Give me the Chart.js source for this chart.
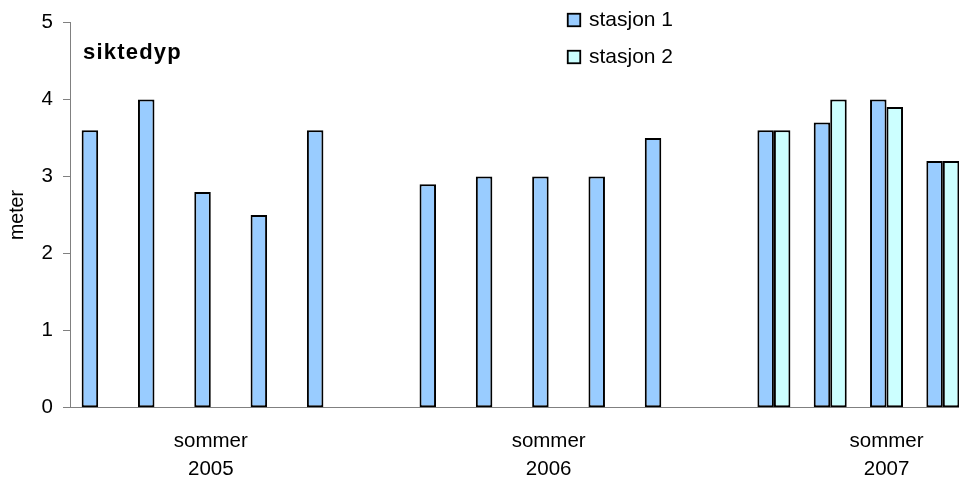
<!DOCTYPE html>
<html>
<head>
<meta charset="utf-8">
<script src="https://cdn.jsdelivr.net/npm/chart.js@4.4.1/dist/chart.umd.min.js"></script>
<style>
html, body { margin: 0; padding: 0; overflow: hidden; background: #fff; }
#wrap { width: 975px; height: 479px; }
</style>
</head>
<body>
<div id="wrap"><canvas id="chart"></canvas></div>
<script>
// 16 sampling slots, two of them empty between the summers
const categories = [
    '', '', ['sommer', '2005'], '', '',
    '',
    '', '', ['sommer', '2006'], '', '',
    '',
    '', '', ['sommer', '2007'], ''
];
const stasjon1 = [3.6, 4.0, 2.8, 2.5, 3.6, null, 2.9, 3.0, 3.0, 3.0, 3.5, null, 3.6, 3.7, 4.0, 3.2];
const stasjon2 = [null, null, null, null, null, null, null, null, null, null, null, null, 3.6, 4.0, 3.9, 3.2];
const seriesNames = ['stasjon 1', 'stasjon 2'];
const chartTitle = 'siktedyp';
const yTitle = 'meter';

const FONT = '"Liberation Sans", Arial, sans-serif';

// legend + title drawn inside the plot like the original
const extras = {
    id: 'extras',
    afterDraw(chart) {
        const ctx = chart.ctx;
        ctx.save();
        ctx.font = '21px ' + FONT;
        ctx.textBaseline = 'alphabetic';
        chart.data.datasets.forEach((ds, i) => {
            const y = 13.75 + i * 37;
            ctx.fillStyle = ds.backgroundColor;
            ctx.fillRect(567.75, y, 12.5, 12.5);
            ctx.lineWidth = 1.8;
            ctx.strokeStyle = '#000';
            ctx.strokeRect(567.75, y, 12.5, 12.5);
            ctx.fillStyle = '#000';
            ctx.fillText(ds.label, 589, y + 12);
        });
        ctx.font = 'bold 22px ' + FONT;
        ctx.letterSpacing = '1.2px';
        ctx.fillText(chartTitle, 83, 59);
        ctx.restore();
    }
};

const ctx = document.getElementById('chart').getContext('2d');
const chart = new Chart(ctx, {
    type: 'bar',
    data: {
        labels: categories,
        datasets: [{
            label: seriesNames[0],
            data: stasjon1,
            backgroundColor: '#99CCFF',
            borderColor: '#000000',
            borderWidth: 2,
            borderSkipped: false
        }, {
            label: seriesNames[1],
            data: stasjon2,
            backgroundColor: '#CCFFFF',
            borderColor: '#000000',
            borderWidth: 2,
            borderSkipped: false
        }]
    },
    options: {
        responsive: true,
        maintainAspectRatio: false,
        animation: false,
        categoryPercentage: 0.586,
        barPercentage: 1.0,
        layout: { padding: { top: 19.4, right: 4, left: 0, bottom: 0 } },
        plugins: {
            legend: { display: false },
            tooltip: { enabled: false }
        },
        scales: {
            x: {
                grid: { display: false, drawTicks: false, tickLength: 0 },
                border: { display: true, color: '#808080', width: 1 },
                ticks: {
                    autoSkip: false,
                    maxRotation: 0,
                    padding: 19,
                    color: '#000',
                    font: { family: FONT, size: 20.5, lineHeight: 1.4 }
                },
                afterFit(scale) { scale.height = 71.3; }
            },
            y: {
                min: 0,
                max: 5,
                ticks: {
                    stepSize: 1,
                    padding: 10,
                    color: '#000',
                    font: { family: FONT, size: 20.5 }
                },
                grid: { drawOnChartArea: false, tickLength: 7, color: '#808080' },
                border: { color: '#808080', width: 1 },
                title: {
                    display: true,
                    text: yTitle,
                    color: '#000',
                    font: { family: FONT, size: 19.5 },
                    padding: { top: 6, bottom: 0 }
                },
                afterFit(scale) { scale.width = 70; }
            }
        }
    },
    plugins: [extras]
});
</script>
</body>
</html>
